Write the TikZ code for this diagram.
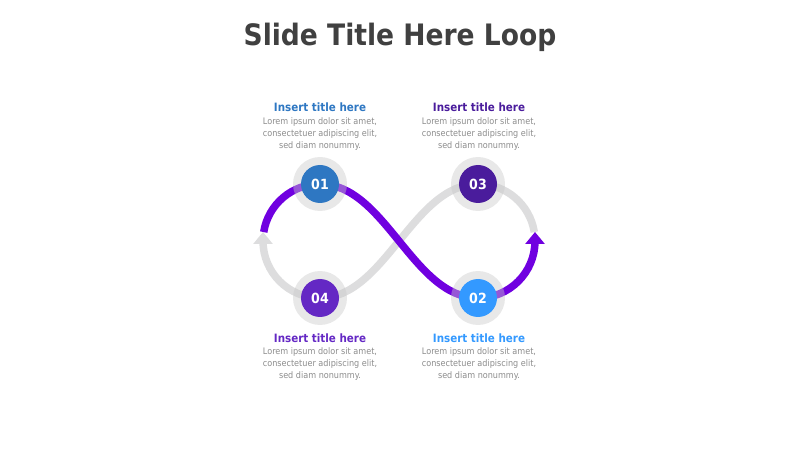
\documentclass[tikz,border=0pt]{standalone}
\usepackage{fontspec}
\setmainfont{DejaVu Sans Condensed}
\usepackage{tikz}
\usetikzlibrary{arrows.meta, positioning}
\definecolor{loopviolet}{HTML}{7000E0}
\definecolor{loopgray}{HTML}{DDDDDE}
\definecolor{halogray}{HTML}{CACACA}
\definecolor{titlegray}{HTML}{404040}
\definecolor{bodygray}{HTML}{8C8C8C}
\definecolor{stepA}{HTML}{2E77C2}
\definecolor{stepB}{HTML}{3399FF}
\definecolor{stepC}{HTML}{4A1C9C}
\definecolor{stepD}{HTML}{6428C4}
\tikzstyle{loopline} = [line width = 7.5pt, -{Triangle[width = 19pt, length = 12pt]}]
\tikzstyle{halo} = [circle, fill = halogray, fill opacity = 0.43, minimum size = 54pt, inner sep = 0pt]
\tikzstyle{numdot} = [circle, minimum size = 38pt, inner sep = 0pt, text = white,
    font = \bfseries\fontsize{14}{14}\selectfont]
\tikzstyle{head} = [font = \bfseries\fontsize{11.5}{12}\selectfont, anchor = base]
\tikzstyle{body} = [text = bodygray, align = center, inner sep = 0pt,
    font = \fontsize{9}{12}\selectfont]

\begin{document}
\begin{tikzpicture}[x = 1pt, y = 1pt]
        \useasboundingbox (0, 0) rectangle (800, 450);

        \node [font = \bfseries\fontsize{29.5}{30}\selectfont, text = titlegray, anchor = base]
            (title) at (400, 404) {Slide Title Here Loop};

        % loop
        \coordinate (lft) at (263.7, 217.9);
        \coordinate (rgt) at (534.3, 217.9);
        \coordinate (p1) at (320, 266);
        \coordinate (p2) at (478, 152);
        \coordinate (p3) at (478, 266);
        \coordinate (p4) at (320, 152);
        \draw [loopline, loopgray] (rgt) arc [start angle = 9, end angle = 90, radius = 57]
            .. controls +(-65, 0) and +(65, 0) .. (p4)
            arc [start angle = 270, end angle = 180, radius = 57] -- ++(0, 9);
        \draw [loopline, loopviolet] (lft) arc [start angle = 171, end angle = 90, radius = 57]
            .. controls +(65, 0) and +(-65, 0) .. (p2)
            arc [start angle = 270, end angle = 360, radius = 57] -- ++(0, 9);

        % steps
        \foreach \i/\c in {1/stepA, 2/stepB, 3/stepC, 4/stepD}
        {
            \node [halo] (h\i) at (p\i) {};
            \node [numdot, fill = \c] (n\i) at (p\i) {0\i};
        }

        \node [head, text = stepA] (t1) at (320, 338) {Insert title here};
        \node [head, text = stepC] (t3) at (479, 338) {Insert title here};
        \node [head, text = stepD] (t4) at (320, 108) {Insert title here};
        \node [head, text = stepB] (t2) at (479, 108) {Insert title here};
        \foreach \i in {1, 2, 3, 4}
        {
            \node [body, below = 1.5pt of t\i] (b\i)
                {Lorem ipsum dolor sit amet,\\ consectetuer adipiscing elit,\\ sed diam nonummy.};
        }
    \end{tikzpicture}
\end{document}
